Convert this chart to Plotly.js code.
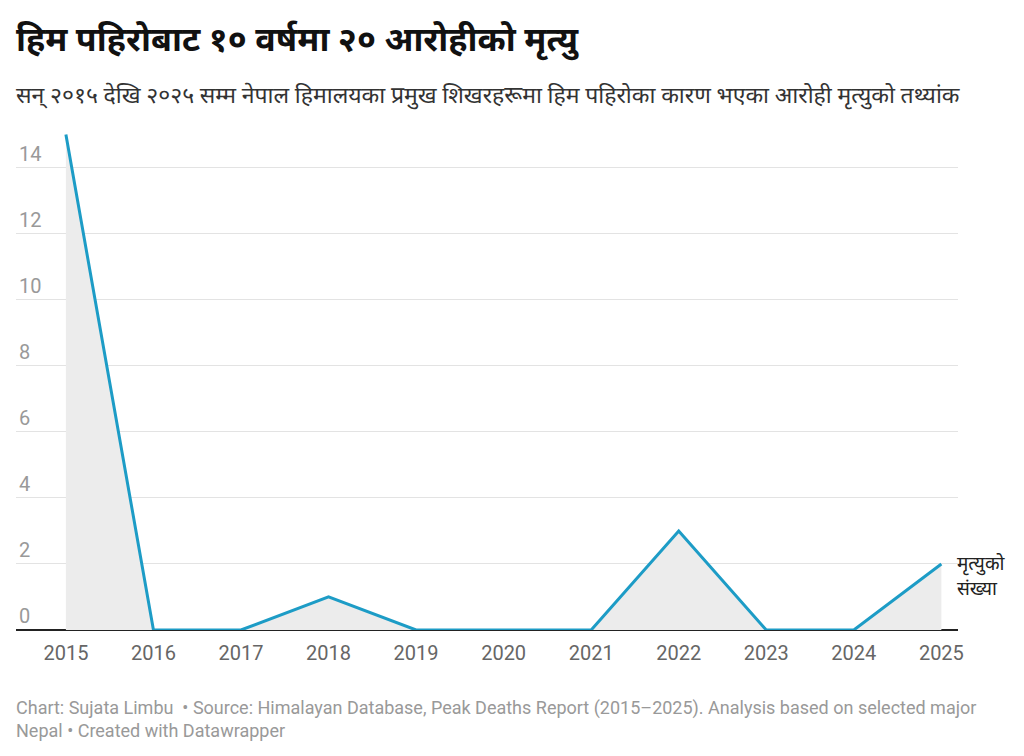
<!DOCTYPE html>
<html>
<head>
<meta charset="utf-8">
<script src="https://cdn.plot.ly/plotly-3.0.1.min.js"></script>
<style>
  html, body { margin: 0; padding: 0; background: #fff; }
  #chart { width: 1024px; height: 756px; }
</style>
</head>
<body>
<div id="chart"></div>
<script>
var years = [2015, 2016, 2017, 2018, 2019, 2020, 2021, 2022, 2023, 2024, 2025];
var deaths = [15, 0, 0, 1, 0, 0, 0, 3, 0, 0, 2];
var yTicks = [0, 2, 4, 6, 8, 10, 12, 14];

var font = 'Roboto, "Noto Sans", "Noto Sans Devanagari", sans-serif';

var trace = {
  x: years,
  y: deaths,
  type: 'scatter',
  mode: 'lines',
  fill: 'tozeroy',
  fillcolor: '#ececec',
  line: { color: '#1d9cc6', width: 3 },
  hoverinfo: 'x+y'
};

var layout = {
  width: 1024,
  height: 756,
  paper_bgcolor: '#fff',
  plot_bgcolor: '#fff',
  margin: { l: 16, r: 66, t: 128, b: 126 },
  showlegend: false,
  font: { family: font, color: '#333' },
  xaxis: {
    range: [2014.43, 2025.19],
    tickvals: years,
    ticktext: years.map(String),
    showgrid: false,
    zeroline: false,
    showline: false,
    ticks: 'outside',
    ticklen: 5,
    tickcolor: 'rgba(0,0,0,0)',
    tickfont: { size: 20, color: '#666' },
    fixedrange: true
  },
  yaxis: {
    range: [0, 15.2],
    tickvals: yTicks,
    ticktext: yTicks.map(String),
    ticklabelposition: 'inside top',
    showgrid: true,
    gridcolor: '#e3e3e3',
    gridwidth: 1,
    zeroline: true,
    zerolinecolor: '#222',
    zerolinewidth: 1.5,
    showline: false,
    ticks: '',
    tickfont: { size: 20, color: '#999' },
    fixedrange: true
  },
  annotations: [
    {
      text: 'हिम पहिरोबाट १० वर्षमा २० आरोहीको मृत्यु',
      xref: 'paper', yref: 'paper',
      x: -0.0025, y: 1,
      xanchor: 'left', yanchor: 'bottom',
      yshift: 65,
      showarrow: false,
      font: { size: 34, color: '#111', family: font, weight: 'bold' },
      align: 'left'
    },
    {
      text: 'सन् २०१५ देखि २०२५ सम्म नेपाल हिमालयका प्रमुख शिखरहरूमा हिम पहिरोका कारण भएका आरोही मृत्युको तथ्यांक',
      xref: 'paper', yref: 'paper',
      x: -0.0025, y: 1,
      xanchor: 'left', yanchor: 'bottom',
      yshift: 16,
      showarrow: false,
      font: { size: 23, color: '#333', family: font },
      align: 'left'
    },
    {
      text: 'मृत्युको<br>संख्या',
      xref: 'x', yref: 'y',
      x: 2025, y: 2,
      xanchor: 'left', yanchor: 'top',
      xshift: 14, yshift: 14,
      showarrow: false,
      font: { size: 19, color: '#222', family: font },
      align: 'left'
    },
    {
      text: 'Chart: Sujata Limbu  • Source: Himalayan Database, Peak Deaths Report (2015–2025). Analysis based on selected major<br>Nepal • Created with Datawrapper',
      xref: 'paper', yref: 'paper',
      x: -0.0025, y: 0,
      xanchor: 'left', yanchor: 'top',
      yshift: -65,
      showarrow: false,
      font: { size: 18, color: '#999', family: font },
      align: 'left'
    }
  ]
};

Plotly.newPlot('chart', [trace], layout, { displayModeBar: false, staticPlot: true });
</script>
</body>
</html>
